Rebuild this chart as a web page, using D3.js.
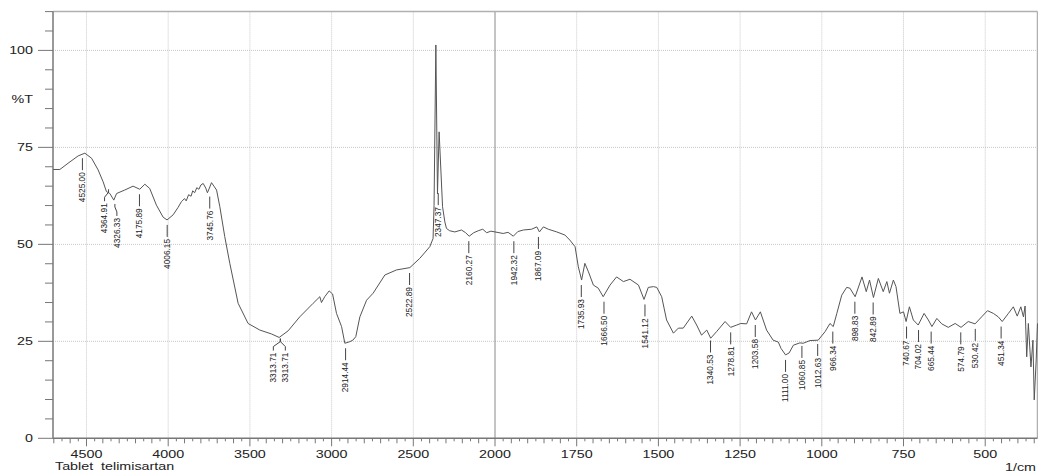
<!DOCTYPE html>
<html>
<head>
<meta charset="utf-8">
<script src="https://cdn.jsdelivr.net/npm/d3@7"></script>
<style>
  body { margin: 0; background: #fff; }
  text { font-family: Arial, "Liberation Sans", sans-serif; fill: #222; }
</style>
</head>
<body>
<div id="chart"></div>
<script>
// spectrum (1/cm, %T)
const wavenumber = [
  4704, 4663, 4613, 4551, 4510, 4469, 4429, 4398, 4378, 4357, 4333, 4316, 4266, 4215, 4174, 4143, 4113,
  4072, 4031, 4007, 3970, 3940, 3919, 3900, 3890, 3875, 3860, 3850, 3838, 3825, 3812, 3800, 3786, 3770,
  3760, 3748, 3735, 3720, 3704, 3684, 3654, 3623, 3572, 3511, 3439, 3368, 3321, 3266, 3195, 3113, 3072,
  3062, 3042, 3015, 2994, 2970, 2939, 2919, 2889, 2870, 2852, 2827, 2786, 2746, 2674, 2603, 2521, 2460,
  2399, 2379, 2373, 2362, 2352, 2342, 2321, 2307, 2297, 2277, 2246, 2205, 2180, 2158, 2130, 2103, 2075,
  2051, 2025, 2000, 1975, 1960, 1944, 1930, 1913, 1888, 1872, 1864, 1852, 1837, 1811, 1786, 1771, 1755,
  1745, 1735, 1725, 1714, 1699, 1684, 1669, 1648, 1628, 1607, 1587, 1561, 1544, 1531, 1515, 1505, 1490,
  1475, 1454, 1439, 1424, 1398, 1383, 1368, 1352, 1340, 1322, 1296, 1279, 1260, 1248, 1230, 1215, 1203,
  1188, 1169, 1149, 1133, 1125, 1111, 1100, 1087, 1067, 1057, 1036, 1011, 990, 975, 965, 954, 939, 924,
  914, 898, 877, 864, 854, 842, 827, 812, 801, 793, 781, 773, 761, 750, 742, 732, 720, 705, 687, 674, 663,
  648, 633, 613, 592, 574, 552, 531, 511, 493, 475, 460, 448, 429, 414, 402, 391, 383, 378, 373, 368, 360,
  354, 350, 344, 340
];
const transmittance = [
  69.3, 69.3, 70.9, 72.8, 73.5, 72.2, 69.2, 66.1, 63.6, 63.1, 61.4, 63.1, 64.0, 65.0, 64.2, 65.5, 64.4,
  60.1, 57.0, 56.3, 57.6, 59.5, 61.0, 61.8, 61.2, 62.8, 62.4, 63.8, 63.3, 64.6, 64.2, 65.3, 65.7, 64.5,
  63.3, 64.5, 65.9, 65.0, 64.0, 59.7, 52.0, 45.1, 34.8, 29.6, 27.9, 26.9, 26.0, 27.7, 31.3, 34.8, 36.5,
  35.0, 36.5, 38.0, 37.2, 32.2, 28.8, 24.5, 24.9, 25.3, 26.2, 31.3, 35.6, 37.4, 42.1, 43.4, 44.0, 46.4,
  49.4, 51.5, 60.0, 101.4, 63.0, 79.0, 59.7, 55.8, 54.1, 53.5, 53.2, 53.7, 53.0, 52.1, 53.0, 53.5, 53.9,
  53.0, 53.4, 53.2, 52.8, 53.1, 52.1, 53.3, 53.7, 53.9, 54.5, 53.2, 54.5, 53.9, 53.2, 52.4, 51.1, 49.4,
  44.2, 40.8, 45.1, 42.9, 39.5, 38.7, 36.5, 39.5, 41.6, 40.4, 41.0, 39.5, 35.8, 38.9, 39.1, 38.9, 36.5,
  30.5, 27.1, 28.4, 28.4, 31.5, 29.2, 26.6, 27.9, 25.8, 27.5, 30.1, 28.6, 29.2, 29.6, 29.5, 32.6, 30.5,
  32.6, 27.9, 25.3, 24.8, 23.2, 21.5, 22.0, 24.0, 24.6, 24.5, 25.2, 25.3, 27.5, 29.6, 28.8, 32.2, 36.9, 38.9,
  38.7, 36.5, 41.6, 37.8, 40.8, 36.3, 41.2, 37.8, 40.4, 37.4, 40.8, 39.1, 32.2, 32.6, 30.1, 33.9, 30.5, 29.2, 32.2, 30.5, 28.8,
  30.9, 29.5, 28.6, 29.6, 28.6, 30.1, 29.5, 31.3, 32.9, 32.2, 31.3, 30.1, 32.2, 33.9, 31.5, 33.9, 31.3, 34.1, 21.0, 29.6, 18.4,
  25.3, 9.9, 20.2, 29.6
];

// peak table
const peakWavenumber = [4525.00, 4364.91, 4326.33, 4175.89, 4006.15, 3745.76, 3313.71, 3313.71, 2914.44,
  2522.89, 2347.37, 2160.27, 1942.32, 1867.09, 1735.93, 1666.50, 1541.12, 1340.53, 1278.81, 1203.58,
  1111.00, 1060.85, 1012.63, 966.34, 898.83, 842.89, 740.67, 704.02, 665.44, 574.79, 530.42, 451.34];
const peakTransmittance = [73.5, 65.5, 61.7, 64.2, 56.3, 63.6, 27.0, 27.0, 24.5,
  43.9, 64.5, 52.1, 52.1, 53.2, 40.8, 36.5, 35.8, 26.5, 28.6, 30.5,
  21.5, 25.1, 25.6, 28.8, 36.5, 36.3, 30.1, 29.2, 28.8, 28.6, 29.5, 30.1];

const xMajorTicks = [4500, 4000, 3500, 3000, 2500, 2000, 1750, 1500, 1250, 1000, 750, 500];
const yMajorTicks = [0, 25, 50, 75, 100];
const sampleName = "Tablet  telimisartan";
const xUnit = "1/cm";
const yUnit = "%T";

const width = 1038, height = 474;
const sx = 1.3; // reference text is stretched sideways

const x = d3.scaleLinear().domain([4705, 2000, 340]).range([53, 495, 1037.5]);
const y = d3.scaleLinear().domain([0, 110]).range([438.3, 11.6]);

const svg = d3.select("#chart").append("svg")
    .attr("width", width)
    .attr("height", height);

// grid
const grid = svg.append("g");
grid.selectAll("line.vg")
    .data(xMajorTicks.filter(d => d !== 2000))
    .join("line")
    .attr("x1", d => x(d)).attr("x2", d => x(d))
    .attr("y1", y(110)).attr("y2", y(0))
    .attr("stroke", "#c8c8c8")
    .attr("stroke-dasharray", "1,1");
grid.selectAll("line.hg")
    .data(yMajorTicks.filter(d => d > 0))
    .join("line")
    .attr("x1", x(4705)).attr("x2", x(340))
    .attr("y1", d => y(d)).attr("y2", d => y(d))
    .attr("stroke", "#c8c8c8")
    .attr("stroke-dasharray", "1,1");
grid.append("line")
    .attr("x1", x(2000)).attr("x2", x(2000))
    .attr("y1", y(110)).attr("y2", y(0))
    .attr("stroke", "#8a8a8a");

// frame
svg.append("line")
    .attr("x1", x(4705)).attr("x2", x(340))
    .attr("y1", y(110)).attr("y2", y(110))
    .attr("stroke", "#b0b0b0").attr("stroke-width", 1.5);
svg.append("line")
    .attr("x1", x(340)).attr("x2", x(340))
    .attr("y1", y(110)).attr("y2", y(0))
    .attr("stroke", "#b0b0b0").attr("stroke-width", 1.5);

// y axis
const yAxis = svg.append("g");
yAxis.append("line")
    .attr("x1", x(4705)).attr("x2", x(4705))
    .attr("y1", y(110)).attr("y2", y(0))
    .attr("stroke", "#777").attr("stroke-width", 1.5);
yAxis.selectAll("line.minor")
    .data(d3.range(0, 111, 5))
    .join("line")
    .attr("x1", d => x(4705) - (d % 25 === 0 ? 15 : 8))
    .attr("x2", x(4705))
    .attr("y1", d => y(d)).attr("y2", d => y(d))
    .attr("stroke", "#777");
yAxis.selectAll("text")
    .data(yMajorTicks)
    .join("text")
    .attr("transform", d => `translate(33,${y(d) + 4}) scale(${sx},1)`)
    .attr("text-anchor", "end")
    .style("font-size", "11px")
    .text(d => d);
svg.append("text")
    .attr("transform", `translate(33,${y(87.5) + 4}) scale(${sx},1)`)
    .attr("text-anchor", "end")
    .style("font-size", "11px")
    .text(yUnit);

// x axis
const xAxis = svg.append("g");
xAxis.append("line")
    .attr("x1", x(4705)).attr("x2", x(340))
    .attr("y1", y(0)).attr("y2", y(0))
    .attr("stroke", "#777").attr("stroke-width", 1.5);
const leftMinor = d3.range(4700, 2000, -50);
const rightMinor = d3.range(2000, 340, -25);
xAxis.selectAll("line.minorL")
    .data(leftMinor)
    .join("line")
    .attr("x1", d => x(d)).attr("x2", d => x(d))
    .attr("y1", y(0))
    .attr("y2", d => y(0) + (d % 500 === 0 ? 8 : d % 100 === 0 ? 5 : 3))
    .attr("stroke", "#777");
xAxis.selectAll("line.minorR")
    .data(rightMinor)
    .join("line")
    .attr("x1", d => x(d)).attr("x2", d => x(d))
    .attr("y1", y(0))
    .attr("y2", d => y(0) + (d % 250 === 0 ? 8 : d % 50 === 0 ? 5 : 3))
    .attr("stroke", "#777");
xAxis.selectAll("text")
    .data(xMajorTicks)
    .join("text")
    .attr("transform", d => `translate(${x(d)},457.5) scale(${sx},1)`)
    .attr("text-anchor", "middle")
    .style("font-size", "11px")
    .text(d => d);

svg.append("text")
    .attr("transform", `translate(55,470) scale(${sx},1)`)
    .style("font-size", "11px")
    .text(sampleName.replace("  ", " \u00a0"));
svg.append("text")
    .attr("transform", `translate(1036,471) scale(${sx},1)`)
    .attr("text-anchor", "end")
    .style("font-size", "11px")
    .text(xUnit);

// spectrum
const line = d3.line()
    .x(i => x(wavenumber[i]))
    .y(i => y(transmittance[i]));
svg.append("path")
    .attr("d", line(d3.range(wavenumber.length)))
    .attr("fill", "none")
    .attr("stroke", "#555")
    .attr("stroke-width", 1)
    .attr("stroke-linejoin", "round");

// peak labels
const leaderShift = {1: -4, 2: 2, 6: -7, 7: 5};
const peaks = svg.append("g");
peakWavenumber.forEach((wn, i) => {
    const x0 = x(wn);
    const y0 = y(peakTransmittance[i]) + 5;
    const dx = leaderShift[i] || 0;
    const pts = dx === 0
        ? [[x0, y0], [x0, y0 + 12]]
        : [[x0, y0], [x0, y0 + 3], [x0 + dx, y0 + 8], [x0 + dx, y0 + 12]];
    peaks.append("path")
        .attr("d", d3.line()(pts))
        .attr("fill", "none")
        .attr("stroke", "#444");
    peaks.append("text")
        .attr("transform", `translate(${x0 + dx},${y0 + 14}) rotate(-90)`)
        .attr("text-anchor", "end")
        .attr("dy", "0.35em")
        .style("font-size", "8.3px")
        .text(wn.toFixed(2));
});
</script>
</body>
</html>
